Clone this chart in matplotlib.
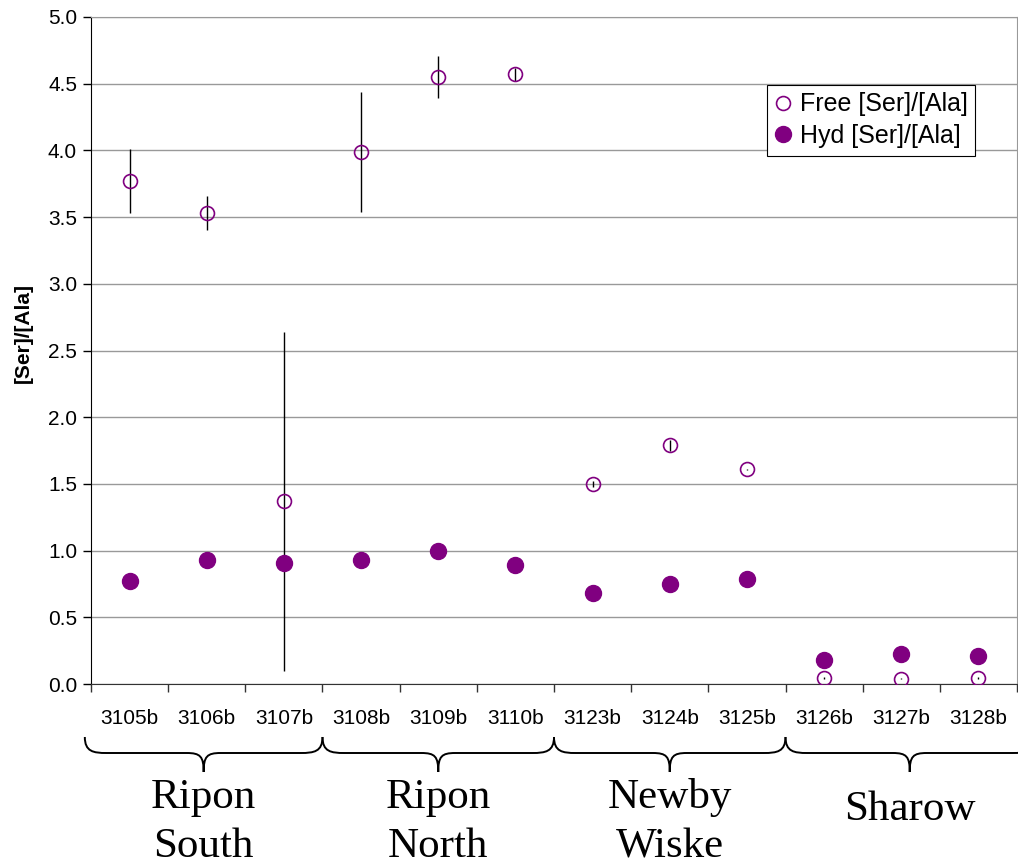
import matplotlib
matplotlib.use("Agg")
import matplotlib.pyplot as plt
import numpy as np
from matplotlib.path import Path
from matplotlib.patches import PathPatch
import matplotlib.transforms as mtransforms

samples = ["3105b", "3106b", "3107b", "3108b", "3109b", "3110b",
           "3123b", "3124b", "3125b", "3126b", "3127b", "3128b"]
free_ratio = [3.77, 3.53, 1.37, 3.99, 4.55, 4.57, 1.50, 1.79, 1.61, 0.045, 0.04, 0.045]
free_err = [0.24, 0.13, 1.27, 0.45, 0.16, 0.05, 0.02, 0.04, 0.005, 0.005, 0.005, 0.005]
hyd_ratio = [0.77, 0.93, 0.91, 0.93, 1.00, 0.89, 0.68, 0.75, 0.79, 0.18, 0.225, 0.21]
group_lines = [["Ripon", "South"], ["Ripon", "North"], ["Newby", "Wiske"], ["Sharow"]]
group_sizes = [3, 3, 3, 3]

plt.rcParams['font.family'] = ['Liberation Sans', 'DejaVu Sans']
fig = plt.figure(figsize=(10.18, 8.66), dpi=100)
ax = fig.add_axes([91/1018, 1-684/866, (1017-91)/1018, (684-17)/866])

x = np.arange(len(samples))
purple = "#800080"
ax.errorbar(x, free_ratio, yerr=free_err, fmt='none', ecolor='black', elinewidth=1.0, zorder=3)
ax.plot(x, free_ratio, 'o', ms=10.0, mfc='none', mec=purple, mew=1.2, zorder=4, label="Free [Ser]/[Ala]")
ax.plot(x, hyd_ratio, 'o', ms=11.5, mfc=purple, mec=purple, zorder=5, label="Hyd [Ser]/[Ala]")

ax.set_xlim(-0.5, len(samples) - 0.5)
ax.set_ylim(0, 5.0)
yt = np.arange(0, 5.01, 0.5)
ax.set_yticks(yt)
ax.set_yticklabels([f"{v:.1f}" for v in yt], fontsize=15)
ax.set_xticks(x)
ax.set_xticklabels(samples, fontsize=15)
ax.set_xticks(np.arange(-0.5, len(samples), 1), minor=True)
ax.tick_params(axis='x', which='major', length=0, pad=18)
ax.tick_params(axis='x', which='minor', length=6, width=1, color='#333333', direction='out')
ax.tick_params(axis='y', length=6, width=1, direction='out', pad=4)
ax.yaxis.grid(True, color='#999999', lw=1.0)
ax.set_axisbelow(True)
for s in ['top', 'right']:
    ax.spines[s].set_color('#999999')
ax.spines['left'].set_color('black')
ax.spines['bottom'].set_color('#333333')
ax.set_ylabel("[Ser]/[Ala]", fontsize=15, fontweight='bold')
ax.yaxis.set_label_coords(-(91-33)/926, (684-333)/667)

leg = ax.legend(loc='upper right', bbox_to_anchor=((975-91)/926, (684-85)/667), fontsize=18,
                frameon=True, fancybox=False, edgecolor='black', framealpha=1,
                handletextpad=0.35, borderpad=0.3, labelspacing=0.3, handlelength=0.65,
                borderaxespad=0, markerscale=1.0)
leg.get_frame().set_linewidth(0.8)

# braces under the groups
trans = mtransforms.blended_transform_factory(ax.transData, ax.transAxes)
def ay(py):
    return (684 - py) / 667
y_top, y_mid, y_bot = ay(737), ay(753), ay(772)
bounds = []
start = -0.5
for n in group_sizes:
    bounds.append([start, start + n])
    start += n
bounds[0][0] = -0.58
bounds[-1][1] = 11.72
for (a, b), lines in zip(bounds, group_lines):
    m = (a + b) / 2
    he = 0.28
    hm = 0.22
    verts = [
        (a, y_top), (a, y_mid + 0.002), (a + he*0.4, y_mid), (a + he, y_mid),
        (m - hm, y_mid), (m - hm*0.2, y_mid), (m, y_mid - 0.005), (m, y_bot),
        (m, y_mid - 0.005), (m + hm*0.2, y_mid), (m + hm, y_mid),
        (b - he, y_mid), (b - he*0.4, y_mid), (b, y_mid + 0.002), (b, y_top),
    ]
    codes = [Path.MOVETO, Path.CURVE4, Path.CURVE4, Path.CURVE4,
             Path.LINETO, Path.CURVE4, Path.CURVE4, Path.CURVE4,
             Path.CURVE4, Path.CURVE4, Path.CURVE4,
             Path.LINETO, Path.CURVE4, Path.CURVE4, Path.CURVE4]
    patch = PathPatch(Path(verts, codes), transform=trans, fill=False, lw=1.4,
                      edgecolor='black', clip_on=False)
    ax.add_patch(patch)
    if len(lines) == 2:
        baselines = [808, 857]
    else:
        baselines = [820]
    for txt, bl in zip(lines, baselines):
        ax.text(m, ay(bl), txt, transform=trans, ha='center', va='baseline', fontsize=31,
                family='Liberation Serif', clip_on=False)

fig.savefig("out.png", dpi=100)
